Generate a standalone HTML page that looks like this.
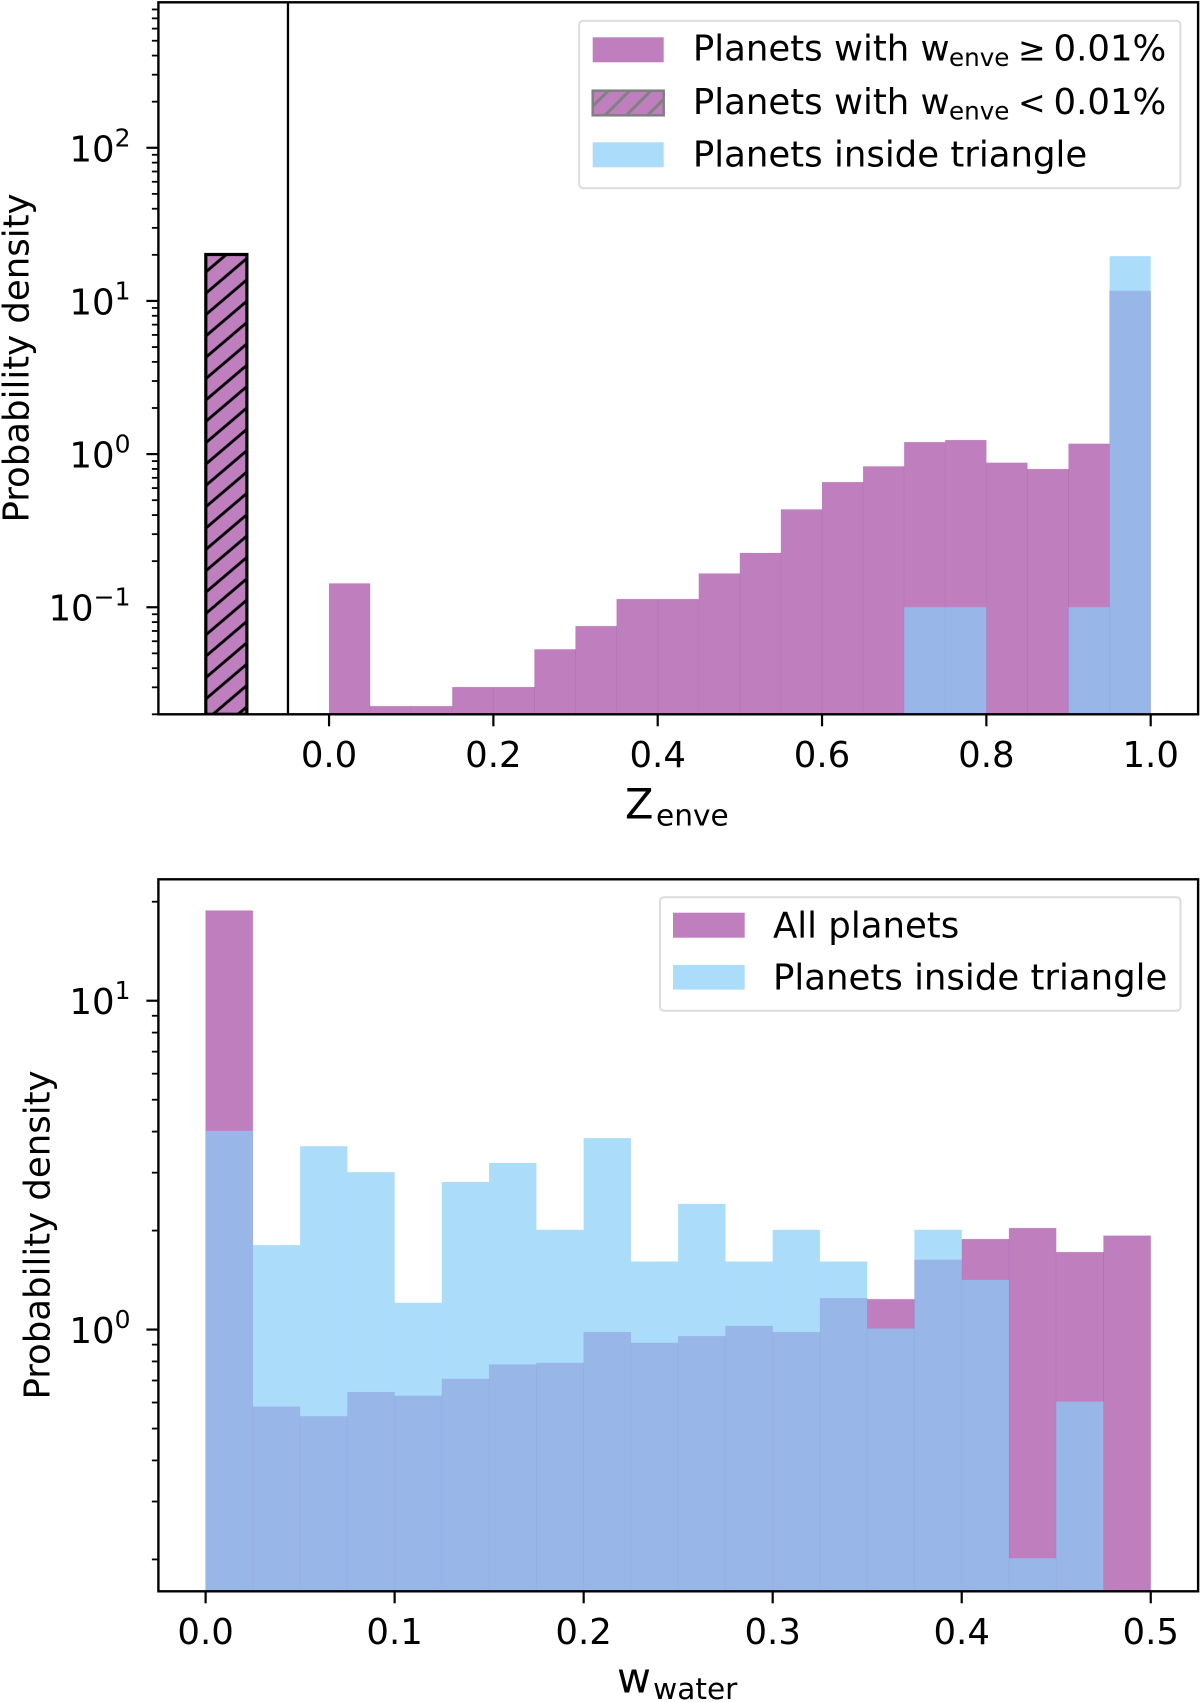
<!DOCTYPE html>
<html lang="en">
<head>
<meta charset="utf-8">
<title>Planet composition histograms</title>
<style>
  html, body { margin: 0; padding: 0; background: #fff; }
  body { width: 1200px; height: 1702px; overflow: hidden; }
  svg { display: block; filter: blur(0.35px); }
  text { font-family: "DejaVu Sans", "Liberation Sans", sans-serif; fill: #000; }
</style>
</head>
<body>
<svg id="figure" xmlns="http://www.w3.org/2000/svg" width="1200" height="1702" viewBox="0 0 1200 1702">
  <defs>
    <pattern id="hatch-black" patternUnits="userSpaceOnUse" width="25.1" height="21.35" patternTransform="translate(247 236.95)">
      <path d="M-5.02 25.62L30.12 -4.27M-5.02 4.27L5.02 -4.27M20.08 25.62L30.12 17.08" fill="none" stroke="#000" stroke-width="2.9"/>
    </pattern>
    <pattern id="hatch-grey" patternUnits="userSpaceOnUse" width="21.3" height="21.3" patternTransform="translate(17.4 0)">
      <path d="M-4 25.3L25.3 -4M-4 4L4 -4M17.3 25.3L25.3 17.3" fill="none" stroke="#808080" stroke-width="3"/>
    </pattern>
    <clipPath id="clip-top"><rect x="158.4" y="2.3" width="1039.7" height="712"/></clipPath>
    <clipPath id="clip-bottom"><rect x="158.4" y="879.3" width="1039.7" height="712"/></clipPath>
  </defs>

  <rect width="1200" height="1702" fill="#fff"/>

  <g id="top-marks" clip-path="url(#clip-top)"></g>
  <g id="top-axes"></g>
  <g id="bottom-marks" clip-path="url(#clip-bottom)"></g>
  <g id="bottom-axes"></g>

  <text font-size="35.5" text-anchor="middle" transform="translate(28.5 358) rotate(-90)">Probability density</text>
  <text x="625" y="818.3" font-size="41.5">Z<tspan x="656" dy="7" font-size="29.6">enve</tspan></text>

  <text font-size="35.5" text-anchor="middle" transform="translate(49.5 1235) rotate(-90)">Probability density</text>
  <text x="617" y="1692.7" font-size="41.5">w<tspan x="653" dy="6.3" font-size="29.6">water</tspan></text>

  <g>
    <rect x="579.2" y="20.7" width="601.2" height="167.6" rx="4" fill="#fff" fill-opacity="0.8" stroke="#dcdcdc" stroke-width="2"/>
    <rect x="592.7" y="37.3" width="71" height="25" fill="#800080" fill-opacity="0.5"/>
    <text x="692.9" y="60.7" font-size="35.5">Planets with w<tspan x="949" dy="5.5" font-size="24.6">enve</tspan><tspan x="1018" dy="-5.5" font-size="33">≥</tspan><tspan x="1053.5" font-size="35.5">0.01%</tspan></text>
    <rect x="592.7" y="90.7" width="71" height="24.6" fill="#800080" fill-opacity="0.5"/>
    <rect x="592.7" y="90.7" width="71" height="24.6" fill="url(#hatch-grey)" stroke="#808080" stroke-width="2.5"/>
    <text x="692.9" y="114" font-size="35.5">Planets with w<tspan x="949" dy="5.5" font-size="24.6">enve</tspan><tspan x="1018" dy="-5.5" font-size="33">&lt;</tspan><tspan x="1053.5" font-size="35.5">0.01%</tspan></text>
    <rect x="592.7" y="142.3" width="71" height="25" fill="#87cefa" fill-opacity="0.7"/>
    <text x="692.9" y="166.7" font-size="35.5">Planets inside triangle</text>
  </g>

  <g>
    <rect x="660" y="897.3" width="520.5" height="113.4" rx="4" fill="#fff" fill-opacity="0.8" stroke="#dcdcdc" stroke-width="2"/>
    <rect x="673" y="912.7" width="71.7" height="25" fill="#800080" fill-opacity="0.5"/>
    <text x="773" y="937.3" font-size="35.5">All planets</text>
    <rect x="673" y="965" width="71.7" height="24.6" fill="#87cefa" fill-opacity="0.7"/>
    <text x="773" y="989.3" font-size="35.5">Planets inside triangle</text>
  </g>
</svg>

<script>
// ---- Top panel data (Z_enve) ----
const zEnveBinStart = 0;
const zEnveBinWidth = 0.05;
const zEnveAllPlanets = [0.143, 0.0226, 0.0226, 0.0301, 0.0301, 0.0531, 0.0753, 0.113, 0.113, 0.166, 0.226, 0.435, 0.656, 0.831, 1.197, 1.234, 0.878, 0.798, 1.168, 11.64];
const zEnveInsideTriangle = [0, 0, 0, 0, 0, 0, 0, 0, 0, 0, 0, 0, 0, 0, 0.1, 0.1, 0, 0, 0.1, 19.6];
const zEnveLowBinStart = -0.15;
const zEnveLowBinWidth = 0.05;
const zEnveLowValue = [20.1];
const zEnveSeparator = [-0.05];
const zEnveXTicks = [0, 0.2, 0.4, 0.6, 0.8, 1.0];
const zEnveXTickLabels = ['0.0', '0.2', '0.4', '0.6', '0.8', '1.0'];
const zEnveYTicks = [-1, 0, 1, 2];
const zEnveYTickLabels = ['\u22121', '0', '1', '2'];
const zEnveXDomain = [-0.2077, 1.0577];
const zEnveYDomain = [0.02, 891];

// ---- Bottom panel data (w_water) ----
const wWaterBinStart = 0;
const wWaterBinWidth = 0.025;
const wWaterAllPlanets = [18.8, 0.583, 0.545, 0.646, 0.629, 0.708, 0.783, 0.792, 0.982, 0.911, 0.955, 1.026, 0.982, 1.246, 1.237, 1.63, 1.884, 2.035, 1.72, 1.93];
const wWaterInsideTriangle = [4.02, 1.806, 3.61, 3.01, 1.206, 2.81, 3.21, 2.01, 3.82, 1.61, 2.41, 1.61, 2.01, 1.61, 1.007, 2.01, 1.416, 0.2016, 0.604, 0];
const wWaterXTicks = [0, 0.1, 0.2, 0.3, 0.4, 0.5];
const wWaterXTickLabels = ['0.0', '0.1', '0.2', '0.3', '0.4', '0.5'];
const wWaterYTicks = [0, 1];
const wWaterYTickLabels = ['0', '1'];
const wWaterXDomain = [-0.02497, 0.52505];
const wWaterYDomain = [0.16, 23.4];

const SVG_NS = 'http://www.w3.org/2000/svg';
const PURPLE = '#800080';
const SKY = '#87cefa';

function make(parent, tag, attrs, text) {
  const node = document.createElementNS(SVG_NS, tag);
  for (const k in attrs) node.setAttribute(k, attrs[k]);
  if (text !== undefined) node.textContent = text;
  parent.appendChild(node);
  return node;
}

function linearScale(domain, range) {
  return function (v) {
    return range[0] + (v - domain[0]) / (domain[1] - domain[0]) * (range[1] - range[0]);
  };
}

function logScale(domain, range) {
  const lo = Math.log10(domain[0]);
  const hi = Math.log10(domain[1]);
  return function (v) {
    return range[0] + (Math.log10(v) - lo) / (hi - lo) * (range[1] - range[0]);
  };
}

function drawHistogram(group, values, start, width, x, y, baseY, fill, opacity, seam) {
  values.forEach(function (v, i) {
    if (!(v > 0)) return;
    const x0 = x(start + i * width);
    const x1 = x(start + (i + 1) * width);
    const top = y(v);
    const bar = make(group, 'rect', {
      x: x0, y: top, width: x1 - x0, height: baseY - top,
      fill: fill, 'fill-opacity': opacity,
      stroke: fill, 'stroke-opacity': seam, 'stroke-width': 1
    });
    
    
  });
}

function drawAxes(group, box, xDomain, yDomain, x, y, xTicks, xTickLabels, yTicks, yTickLabels) {
  const decadeLo = Math.floor(Math.log10(yDomain[0]));
  const decadeHi = Math.ceil(Math.log10(yDomain[1]));
  for (let d = decadeLo; d <= decadeHi; d++) {
    for (let m = 2; m <= 9; m++) {
      const value = m * Math.pow(10, d);
      if (value < yDomain[0] * 0.999 || value > yDomain[1]) continue;
      const minor = make(group, 'line', {
        x1: box.left - 6.5, x2: box.left, y1: y(value), y2: y(value),
        stroke: '#000', 'stroke-width': 1.8
      });
      
      
    }
  }
  yTicks.forEach(function (exp, i) {
    const py = y(Math.pow(10, exp));
    const major = make(group, 'line', {
      x1: box.left - 12, x2: box.left, y1: py, y2: py,
      stroke: '#000', 'stroke-width': 2.2
    });
    
    
    const label = make(group, 'text', {
      x: 130.5, y: py + 13.5, 'font-size': 35.5, 'text-anchor': 'end'
    }, '10');
    
    
    const sup = make(label, 'tspan', { dy: -15, 'font-size': 25 }, yTickLabels[i]);
    
    
  });
  xTicks.forEach(function (value, i) {
    const px = x(value);
    const major = make(group, 'line', {
      x1: px, x2: px, y1: box.bottom, y2: box.bottom + 12,
      stroke: '#000', 'stroke-width': 2.2
    });
    
    
    const label = make(group, 'text', {
      x: px, y: box.bottom + 52.6, 'font-size': 35.5, 'text-anchor': 'middle'
    }, xTickLabels[i]);
    
    
  });
  const frame = make(group, 'rect', {
    x: box.left, y: box.top, width: box.right - box.left, height: box.bottom - box.top,
    fill: 'none', stroke: '#000', 'stroke-width': 2.4
  });
  
  
}

// ---- Render top panel ----
const topBox = { left: 158.4, right: 1198.1, top: 2.3, bottom: 714.3 };
const topX = linearScale(zEnveXDomain, [topBox.left, topBox.right]);
const topY = logScale(zEnveYDomain, [topBox.bottom, topBox.top]);
const topMarks = document.getElementById('top-marks');
const topAxes = document.getElementById('top-axes');

zEnveLowValue.forEach(function (v, i) {
  const x0 = topX(zEnveLowBinStart + i * zEnveLowBinWidth);
  const x1 = topX(zEnveLowBinStart + (i + 1) * zEnveLowBinWidth);
  const top = topY(v);
  const fillBar = make(topMarks, 'rect', {
    x: x0, y: top, width: x1 - x0, height: topBox.bottom - top,
    fill: PURPLE, 'fill-opacity': 0.5
  });
  
  
  const hatchBar = make(topMarks, 'rect', {
    x: x0, y: top, width: x1 - x0, height: topBox.bottom - top,
    fill: 'url(#hatch-black)', stroke: '#000', 'stroke-width': 3.2
  });
  
  
});

zEnveSeparator.forEach(function (v) {
  const sep = make(topMarks, 'line', {
    x1: topX(v), x2: topX(v), y1: topBox.top, y2: topBox.bottom,
    stroke: '#000', 'stroke-width': 2.3
  });
  
  
});

drawHistogram(topMarks, zEnveAllPlanets, zEnveBinStart, zEnveBinWidth, topX, topY, topBox.bottom, PURPLE, 0.5, 0.06);
drawHistogram(topMarks, zEnveInsideTriangle, zEnveBinStart, zEnveBinWidth, topX, topY, topBox.bottom, SKY, 0.7, 0.03);
drawAxes(topAxes, topBox, zEnveXDomain, zEnveYDomain, topX, topY, zEnveXTicks, zEnveXTickLabels, zEnveYTicks, zEnveYTickLabels);

// ---- Render bottom panel ----
const bottomBox = { left: 158.4, right: 1198.1, top: 879.3, bottom: 1591.3 };
const bottomX = linearScale(wWaterXDomain, [bottomBox.left, bottomBox.right]);
const bottomY = logScale(wWaterYDomain, [bottomBox.bottom, bottomBox.top]);
const bottomMarks = document.getElementById('bottom-marks');
const bottomAxes = document.getElementById('bottom-axes');

drawHistogram(bottomMarks, wWaterAllPlanets, wWaterBinStart, wWaterBinWidth, bottomX, bottomY, bottomBox.bottom, PURPLE, 0.5, 0.06);
drawHistogram(bottomMarks, wWaterInsideTriangle, wWaterBinStart, wWaterBinWidth, bottomX, bottomY, bottomBox.bottom, SKY, 0.7, 0.03);
drawAxes(bottomAxes, bottomBox, wWaterXDomain, wWaterYDomain, bottomX, bottomY, wWaterXTicks, wWaterXTickLabels, wWaterYTicks, wWaterYTickLabels);
</script>
</body>
</html>
